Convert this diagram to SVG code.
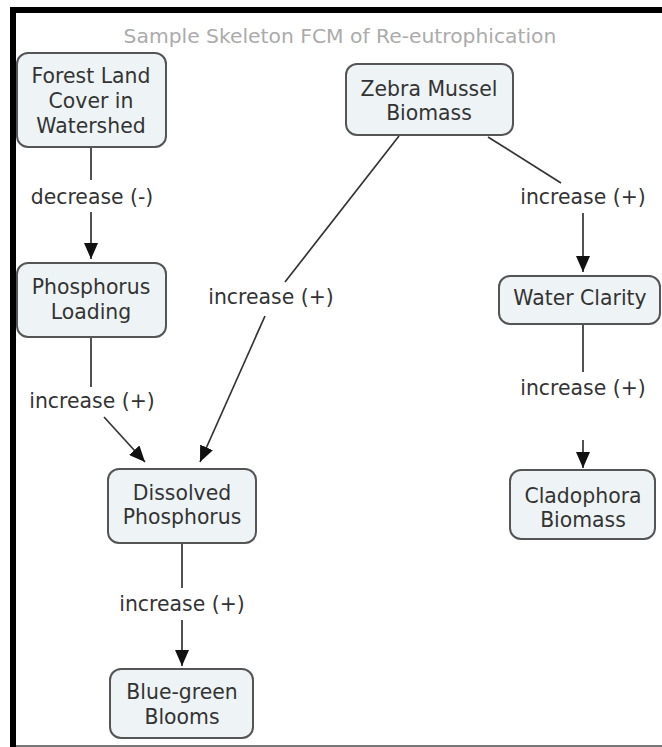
<svg xmlns="http://www.w3.org/2000/svg" width="662" height="747" viewBox="0 0 662 747">
<style>
.node rect{fill:#eef3f5;stroke:#555;stroke-width:2}
.node text,.lbl{font-family:"DejaVu Sans",Verdana,sans-serif;font-size:20.4px;fill:#333;text-anchor:middle}
.title{font-family:"DejaVu Sans",Verdana,sans-serif;font-size:20.3px;fill:#ababab;text-anchor:middle}
.conn line{stroke:#333;stroke-width:1.7;fill:none}
</style>
<defs>
<marker id="arr" markerUnits="userSpaceOnUse" markerWidth="16" markerHeight="14" refX="16" refY="7" orient="auto">
<path d="M0,0 L16,7 L0,14 z" fill="#111"/>
</marker>
</defs>
<rect x="0" y="0" width="662" height="747" fill="#fff"/>
<rect x="10" y="7" width="652" height="6" fill="#000"/>
<rect x="10" y="7" width="6" height="740" fill="#000"/>
<rect x="16" y="745" width="646" height="2" fill="#777"/>
<text class="title" x="340" y="43">Sample Skeleton FCM of Re-eutrophication</text>
<g id="connectors" class="conn">
<line x1="91" y1="147" x2="91" y2="180"/>
<line x1="91" y1="212" x2="91" y2="259" marker-end="url(#arr)"/>
<line x1="91" y1="337" x2="91" y2="387"/>
<line x1="104" y1="417" x2="145" y2="462" marker-end="url(#arr)"/>
<line x1="399" y1="136" x2="285" y2="282"/>
<line x1="265" y1="316" x2="200" y2="462" marker-end="url(#arr)"/>
<line x1="182" y1="543" x2="182" y2="588"/>
<line x1="182" y1="620" x2="182" y2="666" marker-end="url(#arr)"/>
<line x1="488" y1="137" x2="561" y2="183"/>
<line x1="583" y1="213" x2="583" y2="272" marker-end="url(#arr)"/>
<line x1="583" y1="324" x2="583" y2="372"/>
<line x1="583" y1="440" x2="583" y2="468" marker-end="url(#arr)"/>
<text class="lbl" x="92" y="204">decrease (-)</text>
<text class="lbl" x="92" y="408">increase (+)</text>
<text class="lbl" x="271" y="304">increase (+)</text>
<text class="lbl" x="182" y="611">increase (+)</text>
<text class="lbl" x="583" y="204">increase (+)</text>
<text class="lbl" x="583" y="395">increase (+)</text>
</g>
<g id="forest" class="node">
<rect x="17" y="53" width="149" height="94" rx="11"/>
<text x="91" y="83">Forest Land</text>
<text x="91" y="108">Cover in</text>
<text x="91" y="133">Watershed</text>
</g>
<g id="zebra" class="node">
<rect x="346" y="64" width="167" height="71" rx="11"/>
<text x="429" y="96">Zebra Mussel</text>
<text x="429" y="120">Biomass</text>
</g>
<g id="ploading" class="node">
<rect x="17" y="263" width="149" height="74" rx="11"/>
<text x="91" y="294">Phosphorus</text>
<text x="91" y="319">Loading</text>
</g>
<g id="dissolved" class="node">
<rect x="108" y="469" width="148" height="74" rx="11"/>
<text x="182" y="500">Dissolved</text>
<text x="182" y="524">Phosphorus</text>
</g>
<g id="bluegreen" class="node">
<rect x="110" y="669" width="143" height="69" rx="11"/>
<text x="182" y="699">Blue-green</text>
<text x="182" y="724">Blooms</text>
</g>
<g id="clarity" class="node">
<rect x="499" y="276" width="161" height="48" rx="11"/>
<text x="580" y="305">Water Clarity</text>
</g>
<g id="cladophora" class="node">
<rect x="510" y="470" width="145" height="69" rx="11"/>
<text x="583" y="503">Cladophora</text>
<text x="583" y="527">Biomass</text>
</g>
</svg>
